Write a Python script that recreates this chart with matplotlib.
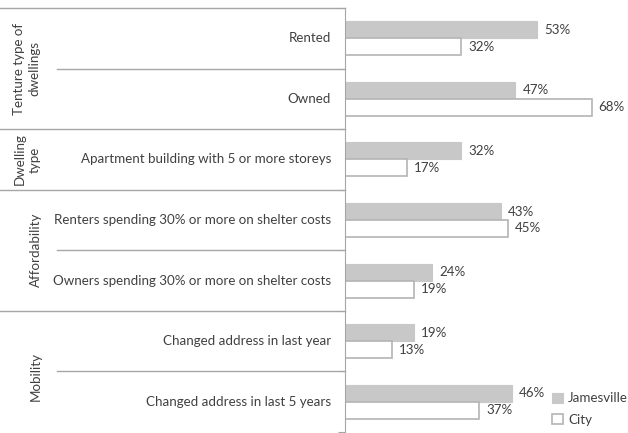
import matplotlib.pyplot as plt
import matplotlib.transforms as mtransforms
import numpy as np

plt.rcParams['font.family'] = ['Lato', 'DejaVu Sans']

# Data
categorias = ['Rented', 'Owned', 'Apartment building with 5 or more storeys',
              'Renters spending 30% or more on shelter costs',
              'Owners spending 30% or more on shelter costs',
              'Changed address in last year', 'Changed address in last 5 years']
jamesville = [53, 47, 32, 43, 24, 19, 46]
city = [32, 68, 17, 45, 19, 13, 37]
grupos = ['Tenture type of\ndwellings', 'Dwelling\ntype', 'Affordability', 'Mobility']
grupo_limites = [(0, 2), (2, 3), (3, 5), (5, 7)]

cinza = '#c8c8c8'
borda = '#b4b4b4'
linha = '#a6a6a6'
texto = '#404040'
fs = 9.6

fig = plt.figure(figsize=(6.28, 4.33), dpi=100)
ax = fig.add_axes([345 / 628, 1 - 432 / 433, 272 / 628, 424 / 433])

n = len(categorias)
y = np.arange(n) + 0.5
h = 0.28
b1 = ax.barh(y - h / 2, jamesville, height=h, color=cinza, edgecolor=cinza, linewidth=0.8, label='Jamesville')
b2 = ax.barh(y + h / 2, city, height=h, color='white', edgecolor=borda, linewidth=1.2, label='City')

for barras, vals in [(b1, jamesville), (b2, city)]:
    for r, v in zip(barras, vals):
        ax.annotate(f'{v}%', (v, r.get_y() + r.get_height() / 2), xytext=(5, 0),
                    textcoords='offset points', va='center', ha='left', fontsize=fs, color=texto)

ax.set_xlim(0, 75)
ax.set_ylim(n, 0)
for s in ['top', 'right', 'bottom']:
    ax.spines[s].set_visible(False)
ax.spines['left'].set_color(linha)
ax.set_xticks([])
ax.set_yticks(np.arange(n + 1))
ax.set_yticklabels([])
ax.tick_params(axis='y', length=5, color=linha, direction='out')

# Separadores e rótulos à esquerda
trans = mtransforms.blended_transform_factory(fig.transFigure, ax.transData)
x_eixo = 345 / 628
inicios_grupo = [g[0] for g in grupo_limites]
for k in range(n):
    x0 = 0 if k in inicios_grupo else 57 / 628
    ax.plot([x0, x_eixo], [k, k], color=linha, lw=1, transform=trans, clip_on=False)
    ax.text(331 / 628, k + 0.5, categorias[k], transform=trans, ha='right', va='center',
            fontsize=fs, color=texto)

for nome, (a, b) in zip(grupos, grupo_limites):
    xg = 27 if '\n' in nome else 36
    yg = (a + b) / 2 + (0.08 if nome == 'Mobility' else 0)
    ax.text(xg / 628, yg, nome, transform=trans, ha='center', va='center',
            rotation=90, fontsize=fs, color=texto, linespacing=1.3)

ax.legend(loc='center left', bbox_to_anchor=(552 / 628, 1 - 409 / 433), bbox_transform=fig.transFigure,
          frameon=False, handlelength=0.8, handleheight=0.8, handletextpad=0.4,
          labelspacing=0.7, fontsize=fs, labelcolor=texto, borderpad=0, borderaxespad=0)

plt.savefig('out.png', dpi=100)
